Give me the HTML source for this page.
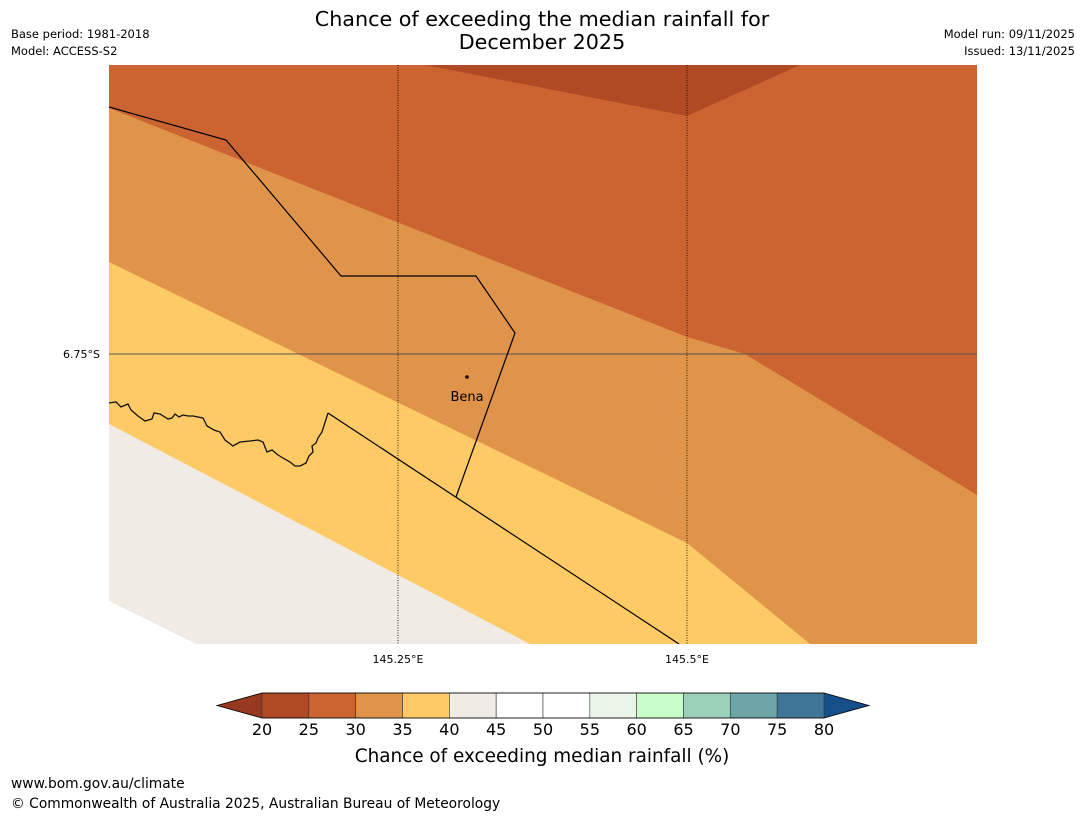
<!DOCTYPE html>
<html><head><meta charset="utf-8"><style>
body{margin:0;background:#fff;width:1085px;height:816px;overflow:hidden;font-family:"Liberation Sans","DejaVu Sans",sans-serif}
svg text{font-family:"DejaVu Sans","Liberation Sans",sans-serif}
</style></head><body>
<svg width="1085" height="816" viewBox="0 0 1085 816">
<text x="542" y="26" font-size="20.7" text-anchor="middle">Chance of exceeding the median rainfall for</text>
<text x="542" y="49" font-size="20.7" text-anchor="middle">December 2025</text>
<text x="11" y="38" font-size="11.5">Base period: 1981-2018</text>
<text x="11" y="55" font-size="11.5">Model: ACCESS-S2</text>
<text x="1075" y="38" font-size="11.5" text-anchor="end">Model run: 09/11/2025</text>
<text x="1075" y="55" font-size="11.5" text-anchor="end">Issued: 13/11/2025</text>
<g>
<clipPath id="c"><rect x="109" y="65" width="868" height="579"/></clipPath>
<g clip-path="url(#c)">
<rect x="109" y="65" width="868" height="579" fill="#cb6431"/>
<polygon points="425,65 800,65 687,116" fill="#b04a25"/>
<polygon points="109,108 687,337 745,354 977,495 977,644 109,644" fill="#e0944a"/>
<polygon points="109,262 687,543 810,644 109,644" fill="#fdca65"/>
<polygon points="109,424 530,644 109,644" fill="#f0ebe5"/>
<polygon points="109,601 196,644 109,644" fill="#fff"/>
<line x1="398" y1="65" x2="398" y2="644" stroke="#000" stroke-width="0.8" stroke-dasharray="1,1.5"/>
<line x1="687" y1="65" x2="687" y2="644" stroke="#000" stroke-width="0.8" stroke-dasharray="1,1.5"/>
<line x1="109" y1="354" x2="977" y2="354" stroke="#555" stroke-width="1"/>
<polyline points="109,107 226,140 341,276 476,276 515,333 456,497" fill="none" stroke="#000" stroke-width="1.2"/>
<polyline points="328,413 679,644" fill="none" stroke="#000" stroke-width="1.2"/>
<polyline points="109,403 116,402 121,407 128,404 131,410 138,416 145,421 152,419 154,413 160,414 168,419 172,418 175,414 179,417 183,415 188,416 193,416 203,418 207,426 214,430 220,432 225,440 233,446 240,442 250,441 258,440 263,442 267,452 272,450 278,455 283,458 290,462 295,466 300,466 306,463 309,456 313,452 312,446 316,443 318,438 322,432 328,413" fill="none" stroke="#111" stroke-width="1.3"/>
</g>
<circle cx="467" cy="377" r="1.8" fill="#000"/>
<text x="467" y="401" font-size="13" text-anchor="middle">Bena</text>
<text x="100" y="358" font-size="11" text-anchor="end">6.75°S</text>
<text x="398" y="663" font-size="11" text-anchor="middle">145.25°E</text>
<text x="687" y="663" font-size="11" text-anchor="middle">145.5°E</text>
</g>
<g id="cb"></g>
<text x="542" y="762" font-size="18.4" text-anchor="middle">Chance of exceeding median rainfall (%)</text>
<text x="11" y="788" font-size="13.8">www.bom.gov.au/climate</text>
<text x="11" y="808" font-size="13.8">© Commonwealth of Australia 2025, Australian Bureau of Meteorology</text>
</svg>
<script>
const ticks=[20,25,30,35,40,45,50,55,60,65,70,75,80];
const colors=["#b04a25","#cb6431","#e0944a","#fdca65","#f0ebe5","#ffffff","#ffffff","#eaf5e9","#c8fcc8","#9bd0b8","#6ea5a8","#3f7697"];
const ns="http://www.w3.org/2000/svg";
const g=document.getElementById('cb');
const x0=262,x1=824,y0=693,y1=718;
const sx=v=>x0+(v-20)/60*(x1-x0);
function mk(t,a){const e=document.createElementNS(ns,t);for(const k in a)e.setAttribute(k,a[k]);g.appendChild(e);return e;}
const l=mk('polygon',{points:`217,705.5 ${x0},${y0} ${x0},${y1}`,fill:'#973820'});


const r=mk('polygon',{points:`869,705.5 ${x1},${y0} ${x1},${y1}`,fill:'#15508a'});


colors.forEach((c,i)=>{
 const s=mk('rect',{x:sx(ticks[i]),y:y0,width:sx(ticks[i+1])-sx(ticks[i]),height:y1-y0,fill:c,stroke:'#333','stroke-width':0.6});
 
 
});
const o=mk('polygon',{points:`217,705.5 ${x0},${y0} ${x1},${y0} 869,705.5 ${x1},${y1} ${x0},${y1}`,fill:'none',stroke:'#000','stroke-width':0.8});


ticks.forEach(v=>{
 const t=mk('text',{x:sx(v),y:735,'font-size':16,'text-anchor':'middle'});
 t.textContent=v;
 
 
});
</script>
</body></html>
